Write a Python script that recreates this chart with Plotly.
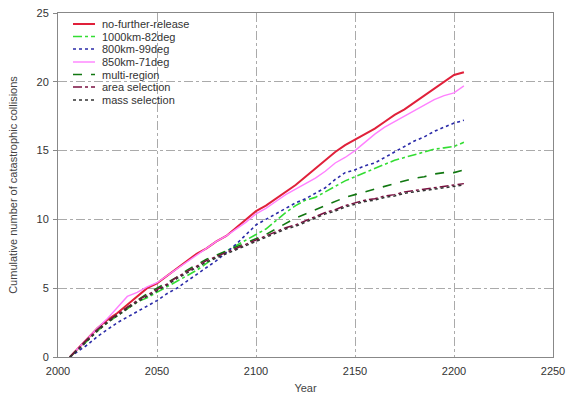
import plotly.graph_objects as go

years = [2006, 2010, 2015, 2020, 2025, 2030, 2035, 2040, 2045, 2050,
         2055, 2060, 2065, 2070, 2075, 2080, 2085, 2090, 2095, 2100,
         2105, 2110, 2115, 2120, 2125, 2130, 2135, 2140, 2145, 2150,
         2155, 2160, 2165, 2170, 2175, 2180, 2185, 2190, 2195, 2200, 2205]

no_further_release = [0, 0.6, 1.4, 2.1, 2.7, 3.2, 3.8, 4.4, 5.0, 5.35,
                      5.9, 6.4, 7.0, 7.5, 7.9, 8.4, 8.8, 9.4, 10.0, 10.6,
                      11.0, 11.5, 12.0, 12.5, 13.1, 13.7, 14.3, 14.9, 15.4, 15.8,
                      16.2, 16.6, 17.1, 17.6, 18.0, 18.5, 19.0, 19.5, 20.0, 20.5, 20.7]
km1000_82deg = [0, 0.5, 1.2, 1.9, 2.5, 3.0, 3.5, 4.0, 4.3, 4.7,
                5.1, 5.5, 5.9, 6.3, 6.8, 7.3, 7.7, 8.1, 8.5, 8.9,
                9.3, 9.9, 10.5, 11.0, 11.4, 11.6, 12.0, 12.4, 12.8, 13.1,
                13.4, 13.7, 14.0, 14.3, 14.5, 14.7, 14.9, 15.1, 15.2, 15.3, 15.6]
km800_99deg = [0, 0.4, 0.9, 1.5, 2.0, 2.5, 2.9, 3.3, 3.7, 4.1,
               4.6, 5.0, 5.5, 6.0, 6.5, 7.0, 7.6, 8.2, 8.9, 9.6,
               10.0, 10.4, 10.8, 11.2, 11.5, 11.9, 12.3, 12.9, 13.4, 13.6,
               13.9, 14.1, 14.5, 14.9, 15.3, 15.7, 16.0, 16.4, 16.7, 17.0, 17.2]
km850_71deg = [0, 0.6, 1.4, 2.1, 2.8, 3.6, 4.4, 4.7, 5.1, 5.4,
               5.9, 6.4, 6.9, 7.4, 7.9, 8.4, 8.8, 9.3, 9.8, 10.4,
               10.8, 11.3, 11.8, 12.2, 12.6, 13.0, 13.5, 14.1, 14.5, 15.0,
               15.6, 16.2, 16.7, 17.1, 17.5, 17.9, 18.3, 18.7, 19.0, 19.2, 19.7]
multi_region = [0, 0.6, 1.3, 2.0, 2.6, 3.1, 3.6, 4.1, 4.6, 5.0,
                5.4, 5.8, 6.3, 6.7, 7.1, 7.4, 7.7, 8.0, 8.3, 8.6,
                8.9, 9.3, 9.7, 10.1, 10.4, 10.7, 11.0, 11.3, 11.6, 11.8,
                12.0, 12.2, 12.4, 12.6, 12.8, 13.0, 13.1, 13.3, 13.4, 13.4, 13.6]
area_selection = [0, 0.6, 1.3, 2.0, 2.6, 3.1, 3.6, 4.1, 4.5, 4.9,
                  5.3, 5.8, 6.2, 6.6, 7.0, 7.3, 7.6, 7.9, 8.2, 8.5,
                  8.8, 9.1, 9.4, 9.6, 9.9, 10.2, 10.5, 10.7, 11.0, 11.2,
                  11.4, 11.5, 11.7, 11.8, 12.0, 12.1, 12.2, 12.3, 12.4, 12.5, 12.6]
mass_selection = [0, 0.5, 1.2, 1.9, 2.5, 3.0, 3.5, 4.0, 4.4, 4.8,
                  5.2, 5.7, 6.1, 6.5, 6.9, 7.2, 7.5, 7.8, 8.1, 8.4,
                  8.7, 9.0, 9.3, 9.5, 9.8, 10.1, 10.4, 10.6, 10.9, 11.1,
                  11.3, 11.4, 11.6, 11.7, 11.9, 12.0, 12.1, 12.2, 12.3, 12.4, 12.5]

names = ["no-further-release", "1000km-82deg", "800km-99deg", "850km-71deg",
         "multi-region", "area selection", "mass selection"]
series = [no_further_release, km1000_82deg, km800_99deg, km850_71deg,
          multi_region, area_selection, mass_selection]
colors = ["#e0203a", "#33dd33", "#2a2aa8", "#ff80ff", "#117711", "#7a1040", "#333333"]
dashes = ["solid", "dashdot", "dot", "solid", "dash", "dashdot", "3px,3px"]
widths = [2, 1.6, 1.6, 1.4, 1.6, 1.5, 1.5]

x_ticks = [2000, 2050, 2100, 2150, 2200, 2250]
y_ticks = [0, 5, 10, 15, 20, 25]

FONT = "Liberation Sans, Arial, sans-serif"
W, H = 567, 397
ML, MR, MT, MB = 58, 14, 13, 40
PW, PH = W - ML - MR, H - MT - MB

fig = go.Figure()
for name, ys, c, d, w in zip(names, series, colors, dashes, widths):
    fig.add_trace(go.Scatter(x=years, y=ys, mode="lines", name=name,
                             line=dict(color=c, dash=d, width=w),
                             showlegend=False))

# custom compact legend (top-left inside plot)
row_px = [24, 36.5, 49, 62, 74.5, 87, 100]
for name, c, d, w, py in zip(names, colors, dashes, widths, row_px):
    yp = (H - MB - py) / PH
    x0 = (73 - ML) / PW
    x1 = (95 - ML) / PW
    fig.add_shape(type="line", xref="paper", yref="paper", x0=x0, x1=x1, y0=yp, y1=yp,
                  line=dict(color=c, dash=d, width=w))
    fig.add_annotation(xref="paper", yref="paper", x=(100 - ML) / PW, y=yp,
                       text=name, showarrow=False, xanchor="left", yanchor="middle",
                       font=dict(family=FONT, size=11, color="#333333"))

axis_common = dict(showline=True, linecolor="#888888", linewidth=1, mirror=True,
                   showgrid=True, gridcolor="#aaaaaa", griddash="dashdot", gridwidth=1,
                   zeroline=False, automargin=False,
                   tickfont=dict(family=FONT, size=11, color="#333333"),
                   title_font=dict(family=FONT, size=11, color="#444444"))

fig.update_xaxes(range=[2000, 2250], tickvals=x_ticks, ticktext=[str(v) for v in x_ticks],
                 title_text="Year", title_standoff=8, ticks="", ticklabelstandoff=4,
                 **axis_common)
fig.update_yaxes(range=[0, 25], tickvals=y_ticks, ticktext=[str(v) for v in y_ticks],
                 title_text="Cumulative number of catastrophic collisions", title_standoff=16,
                 ticks="outside", ticklen=4, tickcolor="#888888", ticklabelstandoff=2,
                 **axis_common)

fig.update_layout(width=W, height=H, margin=dict(l=ML, r=MR, t=MT, b=MB, autoexpand=False),
                  plot_bgcolor="white", paper_bgcolor="white",
                  font=dict(family=FONT, size=11, color="#333333"))

fig.write_html("out.html")
